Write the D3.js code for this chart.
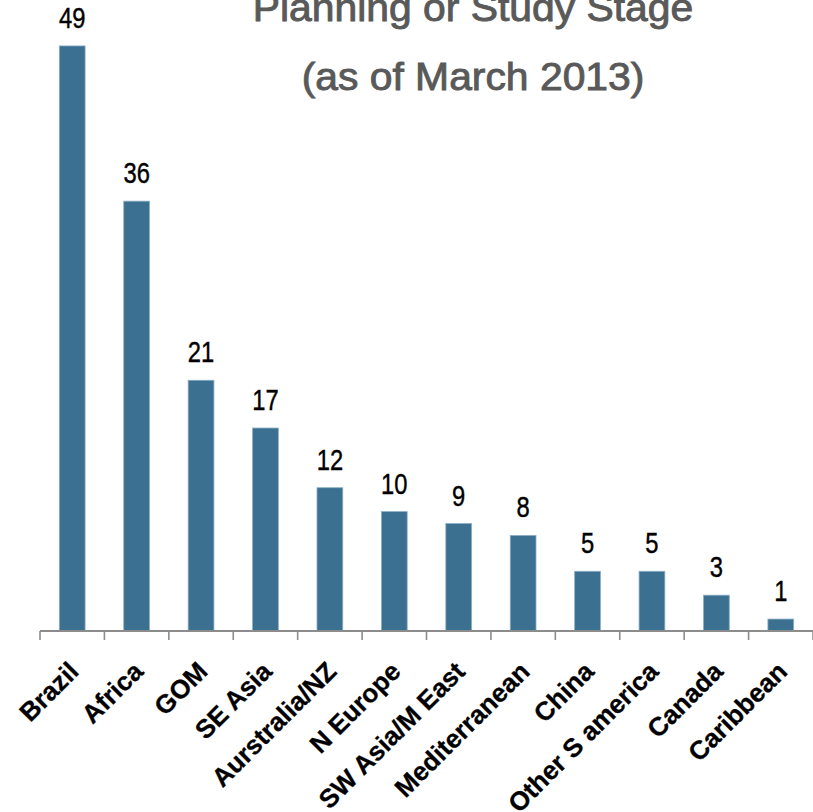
<!DOCTYPE html>
<html>
<head>
<meta charset="utf-8">
<script src="https://cdn.jsdelivr.net/npm/d3@7"></script>
<style>
  html, body { margin: 0; padding: 0; background: #fff; }
  svg { display: block; }
</style>
</head>
<body>
<svg id="chart" width="813" height="812"></svg>
<script>
// Projects in planning or study stage, by region
const regions = ["Brazil", "Africa", "GOM", "SE Asia", "Aurstralia/NZ", "N Europe",
                 "SW Asia/M East", "Mediterranean", "China", "Other S america", "Canada", "Caribbean"];
const projectCounts = [49, 36, 21, 17, 12, 10, 9, 8, 5, 5, 3, 1];
const titleLines = ["Planning or Study Stage", "(as of March 2013)"];

const W = 813, H = 812;
const margin = { left: 40, right: 0, top: 34, bottom: 181 };
const baseY = H - margin.bottom;

const svg = d3.select("#chart");

const x = d3.scaleBand()
  .domain(regions)
  .range([margin.left, W - margin.right])
  .paddingInner(0.6)
  .paddingOuter(0.3);

const y = d3.scaleLinear()
  .domain([0, 50])
  .range([baseY, margin.top]);

const rows = regions.map((r, i) => ({ region: r, value: projectCounts[i] }));

// Bars
svg.append("g")
  .selectAll("rect")
  .data(rows)
  .join("rect")
  .attr("x", d => x(d.region))
  .attr("y", d => y(d.value))
  .attr("width", x.bandwidth())
  .attr("height", d => y(0) - y(d.value))
  .attr("fill", "#3b7091")
  .attr("stroke", "#8aaec6")
  .attr("stroke-width", 0.8);

// Category axis: baseline with ticks between categories
const axisG = svg.append("g").attr("transform", `translate(0,${baseY})`);
const step = x.step();
const x0 = x.range()[0];
axisG.append("line")
  .attr("x1", x0).attr("x2", x.range()[1])
  .attr("y1", 0).attr("y2", 0)
  .attr("stroke", "#8c8c8c").attr("stroke-width", 2);
axisG.selectAll("line.tick")
  .data(d3.range(regions.length + 1))
  .join("line")
  .attr("class", "tick")
  .attr("x1", i => x0 + i * step).attr("x2", i => x0 + i * step)
  .attr("y1", 0).attr("y2", 9)
  .attr("stroke", "#8c8c8c").attr("stroke-width", 1.6);

// Rotated category labels
svg.append("g")
  .selectAll("text")
  .data(rows)
  .join("text")
  .attr("transform", d => `translate(${x(d.region) + x.bandwidth() / 2 + 8},${baseY + 42}) rotate(-45)`)
  .attr("text-anchor", "end")
  .attr("font-family", "'Liberation Sans', Arial, sans-serif")
  .attr("font-weight", "bold")
  .attr("font-size", 26)
  .attr("fill", "#000")
  .attr("stroke", "#000")
  .attr("stroke-width", 0.3)
  .text(d => d.region);

// Value labels above bars (condensed face; squeeze a regular face if no narrow one exists)
const probe = svg.append("text")
  .attr("font-family", "'Liberation Sans Narrow', 'Liberation Sans'")
  .attr("font-size", 29).text("0000");
const probeRef = svg.append("text")
  .attr("font-family", "'Liberation Sans'")
  .attr("font-size", 29).text("0000");
const narrowRatio = probe.node().getComputedTextLength() / probeRef.node().getComputedTextLength();
probe.remove(); probeRef.remove();
const squeeze = narrowRatio > 0.9 ? 0.82 : 1;

svg.append("g")
  .selectAll("text")
  .data(rows)
  .join("text")
  .attr("transform", d => `translate(${x(d.region) + x.bandwidth() / 2},${y(d.value) - 18}) scale(${squeeze},1)`)
  .attr("text-anchor", "middle")
  .attr("font-family", "'Liberation Sans Narrow', 'Liberation Sans', sans-serif")
  .attr("font-size", 29)
  .attr("fill", "#000")
  .attr("stroke", "#000")
  .attr("stroke-width", 0.4)
  .text(d => d.value);

// Title, widened slightly and thickened
const titleX = 473;
svg.append("g")
  .attr("transform", `translate(${titleX},0) scale(1.075,1)`)
  .selectAll("text")
  .data(titleLines)
  .join("text")
  .attr("x", 0)
  .attr("y", (d, i) => 21 + i * 69)
  .attr("text-anchor", "middle")
  .attr("font-family", "'Liberation Sans', Arial, sans-serif")
  .attr("font-size", 38)
  .attr("fill", "#595959")
  .attr("stroke", "#595959")
  .attr("stroke-width", 0.9)
  .text(d => d);
</script>
</body>
</html>
